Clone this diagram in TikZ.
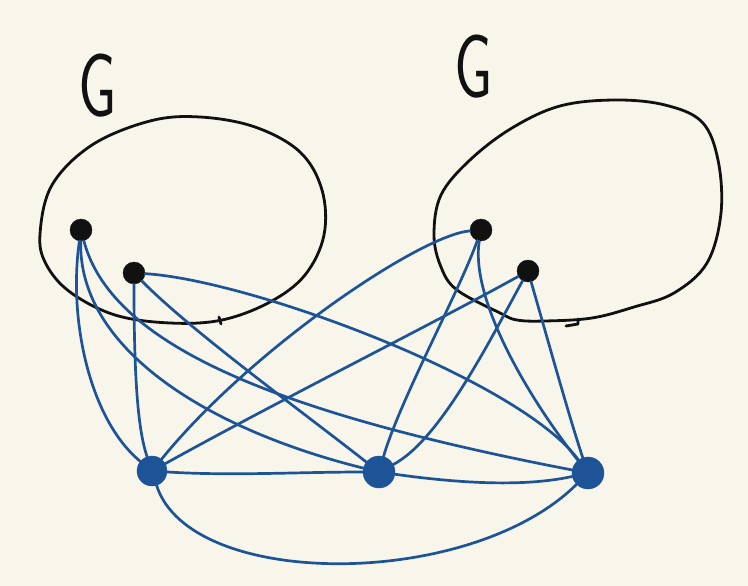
\documentclass[tikz,border=0pt]{standalone}
\usepackage{fontspec}
\usepackage{tikz}
\usetikzlibrary{positioning}
\definecolor{PaperCream}{HTML}{F8F5EA}
\definecolor{InkBlue}{HTML}{1D5497}
\definecolor{InkBlack}{HTML}{111111}

\begin{document}
\begin{tikzpicture}[x=1pt, y=-1pt,
  blob/.style={draw=InkBlack, line width=2.8pt, line cap=round, line join=round},
  vtx/.style={circle, fill=InkBlack, draw=InkBlack, inner sep=0pt, minimum size=22pt},
  hub/.style={circle, fill=InkBlue, draw=InkBlue, inner sep=0pt, minimum size=30pt},
  edge/.style={draw=InkBlue, line width=2.7pt, line cap=round},
  lbl/.style={font=\fontsize{90}{90}\selectfont\sffamily, text=InkBlack, inner sep=0pt, xscale=0.68}
]

\fill[PaperCream] (0,0) rectangle (748,586);
\useasboundingbox (0,0) rectangle (748,586);

% the two copies of G
\draw[blob] plot[smooth cycle, tension=0.6] coordinates {(40,234) (52,185) (92,145) (150,121) (200,117)
  (255,127) (300,152) (322,190) (324,235) (305,275) (270,302) (222,320) (170,323) (115,315) (70,292) (46,264)};
\draw[blob] (219,317) -- (221,324);
\draw[blob] plot[smooth cycle, tension=0.6] coordinates {(434,235) (441,195) (470,160) (512,128) (560,106)
  (615,100) (665,105) (702,122) (718,160) (721,213) (707,263) (674,293) (634,307) (592,318) (545,321)
  (517,320) (500,313) (457,290) (441,267)};
\draw[blob] (566,326) -- (578,324) -- (578,319);

\node[lbl] (gleft)  at (98,86)  {G};
\node[lbl] (gright) at (474,67) {G};

% vertices
\node[vtx] (l1) at (81,230)  {};
\node[vtx] (l2) at (134,273) {};
\node[vtx] (r1) at (481,230) {};
\node[vtx] (r2) at (528,271) {};

\node[hub] (b1) at (152,471) {};
\node[hub, minimum size=32pt] (b2) at (379,472) {};
\node[hub, minimum size=32pt] (b3) at (588,473) {};

% edges from the left copy
\draw[edge] (l1) .. controls (68,320) and (90,420) .. (b1);
\draw[edge] (l1) .. controls (78,350) and (210,430) .. (b2);
\draw[edge] (l1) .. controls (110,340) and (260,410) .. (b3);
\draw[edge] (l2) .. controls (134,380) and (138,430) .. (b1);
\draw[edge] (l2) .. controls (190,330) and (300,410) .. (b2);
\draw[edge] (l2) .. controls (250,280) and (520,380) .. (b3);

% edges from the right copy
\draw[edge] (r1) .. controls (420,235) and (250,350) .. (b1);
\draw[edge] (r1) .. controls (460,290) and (400,400) .. (b2);
\draw[edge] (r1) .. controls (470,300) and (530,400) .. (b3);
\draw[edge] (r2) .. controls (440,320) and (280,400) .. (b1);
\draw[edge] (r2) .. controls (490,340) and (440,440) .. (b2);
\draw[edge] (r2) .. controls (545,330) and (570,420) .. (b3);

% bottom triangle
\draw[edge] (b1) .. controls (230,476) and (300,472) .. (b2);
\draw[edge] (b2) .. controls (450,482) and (520,488) .. (b3);
\draw[edge] (b1) .. controls (190,590) and (470,590) .. (b3);

\end{tikzpicture}
\end{document}
